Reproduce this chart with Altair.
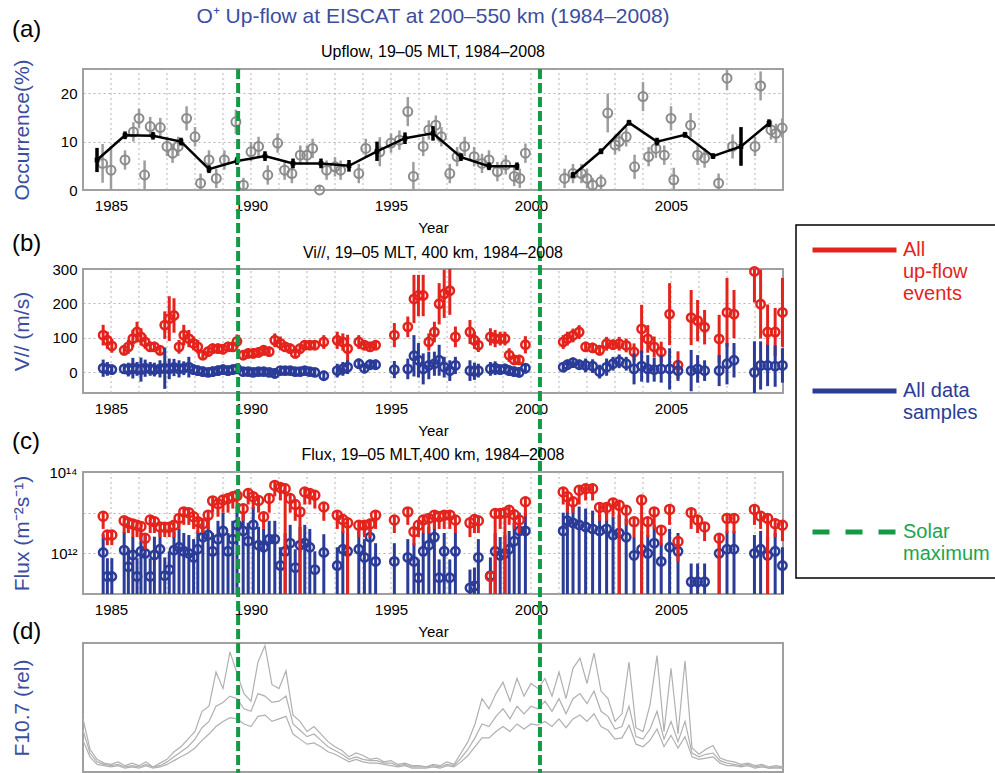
import altair as alt
import pandas as pd

FONT = "Liberation Sans"
RED = "#e4231c"
BLUE = "#2b3b98"
GRAY_PT = "#8a8a8a"
GRAY_BAR = "#9d9d9d"
GREEN = "#139a45"
GREEN_TXT = "#1aa64e"
TITLE_BLUE = "#3b4d9f"
FRAME_C = "#a0a0a0"
GRID_C = "#b5b5b5"
F107_C = "#b0b0b0"

# plot-area geometry in pixels (view is 700 x 704)
W, H = 700, 704
RANGE_A = [121, 0]
RANGE_B = [324, 200]
RANGE_C = [525, 403]
RANGE_D = [703, 574]

X_DOMAIN = [1984, 2009]
TICK_YEARS = [1985, 1990, 1995, 2000, 2005]
GRID_YEARS = list(range(1985, 2009))
SOLAR_MAX_YEARS = [1989.54, 2000.32]

TITLE = "O⁺ Up-flow at EISCAT at 200–550 km (1984–2008)"
SUBTITLES = ["Upflow, 19–05 MLT, 1984–2008",
             "Vi//, 19–05 MLT, 400 km, 1984–2008",
             "Flux, 19–05 MLT,400 km, 1984–2008"]
PANEL_LABELS = ["(a)", "(b)", "(c)", "(d)"]
Y_TITLES = ["Occurrence(%)", "V// (m/s)", "Flux (m⁻²s⁻¹)", "F10.7 (rel)"]
LEG_NAMES = ["All|up-flow|events", "All data|samples|", "Solar|maximum"]

# ---------------- (a) occurrence ----------------
OCC_MEAN_YEAR = [1984.5, 1985.5, 1986.5, 1987.5, 1988.5, 1989.5, 1990.5, 1991.5,
                 1992.5, 1993.5, 1994.5, 1995.5, 1996.5, 1997.5, 1998.5, 1999.5,
                 2001.5, 2002.5, 2003.5, 2004.5, 2005.5, 2006.5, 2007.5, 2008.5]
OCC_MEAN = [6.2, 11.3, 11.2, 10.0, 4.3, 6.0, 7.0, 5.5, 5.5, 5.0, 8.0, 10.7, 11.7, 6.8, 4.9, 4.9,
            3.1, 8.0, 13.9, 10.0, 11.4, 7.0, 9.0, 13.8]
OCC_MEAN_ERR = [2.5, 0.8, 0.8, 0.8, 0.8, 0.8, 1.0, 1.0, 1.0, 1.2, 2.0, 1.2, 1.5, 0.8, 0.8, 0.8,
                0.6, 0.6, 0.6, 0.8, 0.6, 0.6, 4.0, 0.8]
OCC_MEAN_SEG = [0] * 16 + [1] * 8

OCC_YEAR = [1984.7, 1985.0, 1985.5, 1985.8, 1986.0, 1986.2, 1986.4, 1986.76, 1987.0, 1987.2,
            1987.4, 1987.7, 1988.0, 1988.2, 1988.5, 1988.76, 1989.05, 1989.46, 1989.73, 1990.0,
            1990.27, 1990.6, 1990.95, 1991.2, 1991.46, 1991.76, 1992.0, 1992.2, 1992.45, 1992.7,
            1993.0, 1993.2, 1993.85, 1994.1, 1994.6, 1995.0, 1995.3, 1995.6, 1995.8, 1996.15,
            1996.35, 1996.6, 1996.8, 1997.1, 1997.36, 1997.63, 1997.97, 1998.25, 1998.5, 1998.8,
            1999.1, 1999.4, 1999.6, 1999.8, 2001.2, 2001.5, 2001.8, 2002.0, 2002.2, 2002.5,
            2002.74, 2003.0, 2003.15, 2003.4, 2003.7, 2004.0, 2004.2, 2004.46, 2004.76, 2005.0,
            2005.1, 2005.7, 2005.95, 2006.2, 2006.7, 2007.0, 2007.2, 2008.0, 2008.2, 2008.57,
            2008.75, 2008.97]
OCC_VAL = [5.5, 4.1, 6.2, 12.0, 14.8, 3.1, 13.1, 12.9, 9.0, 7.6,
           9.0, 14.8, 11.0, 1.4, 6.2, 2.4, 6.2, 14.1, 1.0, 7.9,
           9.0, 3.1, 9.7, 4.1, 3.4, 7.2, 7.2, 8.6, 0.0, 4.1,
           4.8, 4.1, 3.4, 8.6, 7.9, 9.7, 10.3, 16.2, 2.8, 9.0,
           12.4, 13.4, 11.0, 3.4, 6.9, 9.0, 6.9, 5.5, 6.2, 3.8,
           5.2, 2.8, 2.4, 7.6, 2.4, 3.4, 3.4, 2.4, 1.0, 1.7,
           15.9, 9.3, 10.0, 11.0, 4.8, 19.3, 6.9, 8.6, 7.2, 14.8,
           2.1, 13.4, 7.2, 6.6, 1.4, 23.1, 9.0, 9.0, 21.5, 12.4,
           11.7, 12.8]
OCC_ERR = [4, 5, 2, 2, 2, 3, 2, 2, 2, 2,
           2, 2.5, 2, 2, 2, 2, 2, 2.5, 1.5, 2,
           2, 2, 2, 2, 2, 2, 2, 2, 1, 2,
           2, 2, 2, 2, 3, 2, 2, 3, 3, 2,
           2, 2, 2, 2, 2, 2, 2, 2, 2, 2,
           2, 2, 2, 2, 2, 2, 2, 2, 1.5, 1.5,
           4, 2, 2, 2, 2.5, 3, 2, 2, 2, 2.5,
           2.5, 2.5, 2, 2, 2, 2.5, 2.5, 2, 3, 2,
           2, 2]

# ---------------- (b) and (c) samples ----------------
SAMPLE_YEAR = [1984.72, 1984.87, 1985.03, 1985.47, 1985.62, 1985.78, 1985.93, 1986.07, 1986.22, 1986.40,
               1986.55, 1986.75, 1986.92, 1987.08, 1987.25, 1987.43, 1987.60, 1987.78, 1987.95, 1988.10,
               1988.28, 1988.47, 1988.63, 1988.82, 1989.00, 1989.18, 1989.35, 1989.50, 1989.72, 1989.90,
               1990.08, 1990.27, 1990.45, 1990.65, 1990.85, 1991.05, 1991.22, 1991.40, 1991.58, 1991.75,
               1991.92, 1992.10, 1992.28, 1992.60, 1993.08, 1993.28, 1993.45, 1993.85, 1994.05, 1994.25,
               1994.45, 1995.12, 1995.60, 1995.82, 1995.98, 1996.15, 1996.35, 1996.55, 1996.72, 1996.90,
               1997.10, 1997.30, 1997.82, 1997.98, 1998.12, 1998.55, 1998.72, 1998.90, 1999.07, 1999.22,
               1999.40, 1999.58, 1999.80, 2001.15, 2001.30, 2001.50, 2001.72, 2001.95, 2002.20, 2002.45,
               2002.70, 2002.93, 2003.15, 2003.40, 2003.68, 2003.95, 2004.17, 2004.40, 2004.65, 2004.95,
               2005.25, 2005.72, 2005.95, 2006.20, 2006.72, 2007.00, 2007.25, 2007.98, 2008.20, 2008.45,
               2008.72, 2008.98]

V_UP = [108, 93, 77, 64, 74, 98, 117, 103, 88, 74,
        74, 64, 137, 156, 165, 74, 108, 98, 84, 74,
        50, 60, 69, 69, 67, 74, 74, 90, 50, 55,
        55, 58, 64, 60, 93, 84, 74, 69, 55, 69,
        79, 79, 79, 88, 93, 88, 69, 88, 79, 74,
        79, 108, 132, 213, 223, 223, 88, 117, 199, 228,
        237, 103, 117, 93, 79, 103, 98, 98, 98, 50,
        36, 36, 80, 88, 98, 107, 117, 74, 71, 64,
        83, 80, 83, 78, 59, 126, 97, 74, 59, 169,
        21, 159, 150, 131, 97, 174, 169, 293, 198, 117,
        117, 174]
V_UP_ERR = [30, 25, 20, 15, 20, 25, 30, 25, 20, 15,
            15, 15, 40, 65, 50, 20, 30, 25, 20, 20,
            15, 15, 15, 15, 15, 15, 15, 20, 15, 15,
            15, 15, 15, 15, 20, 20, 15, 15, 15, 15,
            15, 15, 15, 20, 25, 25, 40, 20, 15, 15,
            15, 35, 30, 70, 60, 60, 25, 30, 60, 70,
            70, 30, 35, 25, 20, 25, 25, 20, 20, 20,
            15, 15, 25, 20, 20, 20, 20, 15, 15, 15,
            20, 15, 20, 20, 25, 70, 40, 30, 30, 90,
            40, 80, 60, 50, 70, 100, 70, 90, 100, 80,
            70, 100]
V_ALL = [12, 10, 8, 10, 8, 12, 10, 8, 12, 10,
         8, 10, 12, 10, 14, 10, 12, 15, 8, 5,
         2, 0, 2, 5, 8, 5, 8, 10, 2, 2,
         0, 2, 2, 0, -3, 5, 5, 5, 2, 2,
         5, 2, 0, -10, 5, 10, 15, 25, 12, 22,
         22, 8, 10, 48, 35, 10, 20, 25, 35, 15,
         5, 20, 5, 3, 5, 10, 12, 8, 10, 5,
         2, 0, 12, 15, 22, 28, 22, 20, 18, 2,
         15, 25, 32, 25, 10, 18, 10, 8, 10, 10,
         5, 5, 10, 5, 5, 25, 35, 0, 20, 20,
         18, 20]
V_ALL_ERR = [25, 20, 15, 15, 20, 30, 20, 35, 25, 20,
             20, 25, 60, 30, 25, 25, 20, 30, 15, 15,
             15, 12, 15, 15, 15, 15, 15, 15, 12, 12,
             10, 12, 12, 10, 15, 12, 12, 12, 12, 12,
             12, 12, 12, 15, 20, 20, 20, 15, 15, 15,
             15, 25, 30, 60, 50, 45, 40, 35, 45, 30,
             30, 25, 30, 25, 20, 20, 20, 15, 15, 15,
             15, 15, 15, 15, 15, 15, 15, 20, 20, 20,
             25, 20, 20, 20, 45, 45, 40, 35, 40, 60,
             30, 60, 40, 30, 45, 60, 50, 90, 70, 60,
             60, 50]

# flux, log10 (m^-2 s^-1)
FLUX_UP_LOG = [12.91, 12.45, 12.45, 12.80, 12.75, 12.72, 12.69, 12.66, 12.37, 12.82,
               12.78, 12.65, 12.64, 12.64, 12.69, 12.86, 13.02, 13.00, 12.90, 12.78,
               12.73, 12.94, 13.29, 13.22, 13.31, 13.35, 13.39, 13.42, 13.10, 13.47,
               13.39, 13.30, 12.90, 13.35, 13.67, 13.62, 13.59, 13.35, 13.20, 13.02,
               13.51, 13.47, 13.43, 13.14, 12.94, 12.83, 12.75, 12.69, 12.69, 12.72,
               12.94, 12.82, 13.02, 12.53, 12.69, 12.82, 12.86, 12.94, 12.90, 12.94,
               12.94, 12.82, 12.75, 12.83, 12.80, 11.43, 12.98, 12.98, 13.00, 13.06,
               12.95, 12.82, 13.27, 13.51, 13.39, 13.27, 13.55, 13.59, 13.59, 13.13,
               13.13, 13.24, 13.18, 13.06, 12.78, 13.31, 12.78, 13.02, 12.57, 13.08,
               12.29, 13.00, 12.82, 12.65, 12.37, 12.86, 12.86, 13.08, 12.91, 12.86,
               12.73, 12.69]
FLUX_UP_LOW_LOG = [12.6, 12.2, 12.2, 12.5, 12.5, 12.4, 12.4, 12.4, 12.1, 12.5,
                   12.5, 12.4, 12.4, 12.4, 12.4, 12.6, 12.7, 12.7, 12.6, 12.5,
                   12.5, 12.6, 13.0, 12.9, 13.0, 13.0, 13.1, 13.1, 12.8, 13.2,
                   13.1, 13.0, 12.6, 13.0, 13.4, 13.3, 11.0, 13.0, 12.8, 11.0,
                   13.2, 13.2, 13.1, 12.8, 12.6, 12.5, 11.0, 12.4, 12.4, 12.4,
                   12.6, 12.5, 12.7, 12.2, 12.4, 12.5, 12.5, 12.6, 12.6, 12.6,
                   12.6, 12.5, 12.4, 12.5, 12.5, 11.0, 11.0, 12.6, 11.0, 12.7,
                   12.6, 12.5, 12.9, 13.2, 13.0, 13.0, 13.2, 13.3, 13.3, 12.8,
                   12.8, 12.9, 11.0, 12.7, 12.4, 11.0, 12.4, 12.6, 12.2, 12.7,
                   11.8, 12.6, 12.5, 12.3, 11.0, 12.5, 12.5, 12.7, 12.6, 11.0,
                   12.4, 12.3]
FLUX_ALL_LOG = [12.02, 11.43, 11.43, 12.08, 11.67, 11.96, 11.43, 12.05, 12.00, 11.43,
                11.96, 12.10, 11.45, 11.60, 12.08, 12.15, 12.05, 12.00, 11.90, 12.10,
                12.40, 12.45, 12.05, 12.35, 12.55, 12.05, 12.35, 12.70, 12.55, 12.30,
                12.70, 12.20, 12.15, 12.35, 12.35, 11.70, 12.05, 12.25, 11.65, 12.20,
                12.25, 12.15, 11.60, 12.02, 11.70, 12.10, 12.05, 12.10, 11.90, 12.40,
                11.80, 11.80, 11.90, 11.80, 11.40, 12.05, 12.20, 12.40, 11.40, 12.05,
                11.40, 12.05, 11.15, 11.20, 11.90, 11.45, 12.05, 11.95, 12.00, 12.10,
                12.30, 12.55, 12.55, 12.55, 12.80, 12.75, 12.70, 12.65, 12.60, 12.55,
                12.60, 12.45, 12.50, 12.40, 11.95, 12.10, 12.00, 12.25, 11.80, 12.15,
                12.05, 11.30, 11.30, 11.30, 12.00, 12.10, 12.10, 12.00, 12.10, 11.95,
                12.05, 11.70]
FLUX_UP_SPREAD = 0.12
FLUX_ALL_SPREAD = 0.45
FLUX_FLOOR_LOG = 11.0

# ---------------- (d) F10.7, quarterly samples 1984.00 .. 2009.00 ----------------
F107_T0 = 1984.0
F107_STEP = 0.25
F107_HIGH = [0.42, 0.18, 0.10, 0.07, 0.06, 0.08, 0.05, 0.07, 0.05, 0.08, 0.04, 0.07,
             0.10, 0.16, 0.20, 0.26, 0.32, 0.48, 0.52, 0.79, 0.66, 0.95, 0.78, 0.62,
             0.56, 0.87, 1.00, 0.69, 0.66, 0.80, 0.45, 0.40, 0.32, 0.36, 0.30, 0.24,
             0.20, 0.17, 0.12, 0.15, 0.13, 0.10, 0.11, 0.08, 0.09, 0.06, 0.07, 0.05,
             0.05, 0.04, 0.06, 0.05, 0.08, 0.06, 0.15, 0.24, 0.38, 0.58, 0.50, 0.62,
             0.71, 0.56, 0.74, 0.60, 0.70, 0.66, 0.74, 0.60, 0.79, 0.58, 0.82, 0.90,
             0.70, 0.94, 0.64, 0.58, 0.40, 0.46, 0.87, 0.35, 0.32, 0.53, 0.92, 0.32,
             0.82, 0.30, 0.88, 0.19, 0.14, 0.18, 0.21, 0.11, 0.09, 0.08, 0.06, 0.07,
             0.05, 0.06, 0.04, 0.05, 0.04]
F107_MID = [0.33, 0.15, 0.08, 0.06, 0.05, 0.06, 0.04, 0.05, 0.04, 0.06, 0.04, 0.05,
            0.08, 0.12, 0.16, 0.20, 0.26, 0.35, 0.40, 0.52, 0.55, 0.60, 0.58, 0.50,
            0.48, 0.62, 0.60, 0.55, 0.56, 0.60, 0.38, 0.33, 0.28, 0.30, 0.25, 0.20,
            0.17, 0.14, 0.10, 0.12, 0.10, 0.09, 0.09, 0.07, 0.07, 0.05, 0.06, 0.04,
            0.04, 0.04, 0.05, 0.04, 0.06, 0.05, 0.11, 0.18, 0.27, 0.38, 0.36, 0.44,
            0.50, 0.42, 0.52, 0.46, 0.52, 0.50, 0.56, 0.48, 0.58, 0.46, 0.58, 0.62,
            0.54, 0.64, 0.48, 0.44, 0.34, 0.36, 0.52, 0.28, 0.26, 0.34, 0.48, 0.26,
            0.40, 0.24, 0.40, 0.15, 0.12, 0.14, 0.15, 0.09, 0.07, 0.06, 0.05, 0.06,
            0.04, 0.05, 0.03, 0.04, 0.03]
F107_LOW = [0.25, 0.12, 0.06, 0.05, 0.04, 0.05, 0.03, 0.04, 0.03, 0.05, 0.03, 0.04,
            0.06, 0.09, 0.12, 0.15, 0.19, 0.25, 0.30, 0.36, 0.40, 0.43, 0.42, 0.38,
            0.36, 0.44, 0.45, 0.40, 0.42, 0.44, 0.30, 0.26, 0.22, 0.23, 0.20, 0.16,
            0.14, 0.11, 0.08, 0.10, 0.08, 0.07, 0.07, 0.06, 0.05, 0.04, 0.05, 0.03,
            0.03, 0.03, 0.04, 0.03, 0.05, 0.04, 0.08, 0.13, 0.20, 0.27, 0.27, 0.32,
            0.36, 0.32, 0.38, 0.34, 0.38, 0.37, 0.40, 0.36, 0.42, 0.35, 0.42, 0.45,
            0.40, 0.46, 0.36, 0.33, 0.26, 0.27, 0.37, 0.22, 0.20, 0.25, 0.34, 0.20,
            0.29, 0.19, 0.28, 0.12, 0.10, 0.11, 0.12, 0.07, 0.05, 0.05, 0.04, 0.05,
            0.03, 0.04, 0.03, 0.03, 0.03]

DOM_A = [0, 25]
DOM_B = [-60, 300]
DOM_C = [1e11, 1e14]
DOM_D = [0, 1.02]


def xscale():
    return alt.Scale(domain=X_DOMAIN, nice=False, zero=False)


def yscale(domain, rng, log=False):
    if log:
        return alt.Scale(type="log", domain=domain, range=rng, nice=False, clamp=True)
    return alt.Scale(domain=domain, range=rng, nice=False, zero=False, clamp=True)


def x_axis(offset):
    return alt.Axis(orient="bottom", offset=offset, values=TICK_YEARS, format="d", title="Year",
                    grid=False, domain=False, ticks=False, labelPadding=8, titlePadding=7,
                    labelFontSize=15, titleFontSize=15, titleFontWeight="normal",
                    labelFont=FONT, titleFont=FONT, labelColor="black", titleColor="black")


def y_axis(title, center, values=None, grid=True, labels=True, label_expr=None):
    kw = dict(orient="left", title=title, titleX=-61, titleY=center, titleBaseline="middle",
              titleAlign="center", titleAngle=270,
              titleFontSize=21, titleColor=TITLE_BLUE, titleFont=FONT, titleFontWeight="normal",
              domain=False, ticks=False, labelPadding=6, labelFontSize=15, labelFont=FONT,
              labelColor="black", grid=grid, gridDash=[2, 3], gridColor=GRID_C, gridWidth=1,
              labels=labels)
    if values is not None:
        kw["values"] = values
    if label_expr is not None:
        kw["labelExpr"] = label_expr
    return alt.Axis(**kw)


def frame(dom, ys, xaxis, yaxis):
    df = pd.DataFrame({"x0": [X_DOMAIN[0]], "x1": [X_DOMAIN[1]], "y0": [dom[0]], "y1": [dom[1]]})
    return alt.Chart(df).mark_rect(fillOpacity=0, stroke=FRAME_C, strokeWidth=2).encode(
        x=alt.X("x0:Q", scale=xscale(), axis=xaxis), x2="x1:Q",
        y=alt.Y("y0:Q", scale=ys, axis=yaxis), y2="y1:Q")


def vgrid(dom, ys):
    df = pd.DataFrame({"yr": GRID_YEARS, "lo": [dom[0]] * len(GRID_YEARS), "hi": [dom[1]] * len(GRID_YEARS)})
    return alt.Chart(df).mark_rule(color=GRID_C, strokeWidth=1, strokeDash=[2, 3]).encode(
        x=alt.X("yr:Q", scale=xscale(), axis=None),
        y=alt.Y("lo:Q", scale=ys, axis=None), y2="hi:Q")


def bars(df, lo, hi, ys, color, width):
    return alt.Chart(df).mark_rule(color=color, strokeWidth=width).encode(
        x=alt.X("yr:Q", scale=xscale(), axis=None),
        y=alt.Y(f"{lo}:Q", scale=ys, axis=None), y2=f"{hi}:Q")


def circles(df, field, ys, color, size, width):
    return alt.Chart(df).mark_point(shape="circle", filled=False, color=color, size=size,
                                    strokeWidth=width, opacity=1).encode(
        x=alt.X("yr:Q", scale=xscale(), axis=None),
        y=alt.Y(f"{field}:Q", scale=ys, axis=None))


def panel(*layers):
    return alt.layer(*layers).resolve_axis(x="independent", y="independent")


# ---------- panel (a) ----------
ysA = yscale(DOM_A, RANGE_A)
occ = pd.DataFrame({"yr": OCC_YEAR, "v": OCC_VAL})
occ["lo"] = [v - e for v, e in zip(OCC_VAL, OCC_ERR)]
occ["hi"] = [v + e for v, e in zip(OCC_VAL, OCC_ERR)]
occm = pd.DataFrame({"yr": OCC_MEAN_YEAR, "v": OCC_MEAN, "seg": OCC_MEAN_SEG})
occm["lo"] = [v - e for v, e in zip(OCC_MEAN, OCC_MEAN_ERR)]
occm["hi"] = [v + e for v, e in zip(OCC_MEAN, OCC_MEAN_ERR)]

panelA = panel(
    frame(DOM_A, ysA, x_axis(RANGE_A[0] - H),
          y_axis(Y_TITLES[0], (RANGE_A[0] + RANGE_A[1]) / 2, values=[0, 10, 20])),
    vgrid(DOM_A, ysA),
    bars(occ, "lo", "hi", ysA, GRAY_BAR, 2.5),
    circles(occ, "v", ysA, GRAY_PT, 80, 2),
    bars(occm, "lo", "hi", ysA, "black", 3.5),
    alt.Chart(occm).mark_line(color="black", strokeWidth=2.5).encode(
        x=alt.X("yr:Q", scale=xscale(), axis=None),
        y=alt.Y("v:Q", scale=ysA, axis=None), detail="seg:N"),
    alt.Chart(occm).mark_square(color="black", size=22, opacity=1).encode(
        x=alt.X("yr:Q", scale=xscale(), axis=None),
        y=alt.Y("v:Q", scale=ysA, axis=None)),
)

# ---------- panel (b) ----------
ysB = yscale(DOM_B, RANGE_B)
vel = pd.DataFrame({"yr": SAMPLE_YEAR, "up": V_UP, "all": V_ALL})
vel["up_lo"] = [v - e for v, e in zip(V_UP, V_UP_ERR)]
vel["up_hi"] = [v + e for v, e in zip(V_UP, V_UP_ERR)]
vel["all_lo"] = [v - e for v, e in zip(V_ALL, V_ALL_ERR)]
vel["all_hi"] = [v + e for v, e in zip(V_ALL, V_ALL_ERR)]

panelB = panel(
    frame(DOM_B, ysB, x_axis(RANGE_B[0] - H),
          y_axis(Y_TITLES[1], (RANGE_B[0] + RANGE_B[1]) / 2, values=[0, 100, 200, 300])),
    vgrid(DOM_B, ysB),
    bars(vel, "up_lo", "up_hi", ysB, RED, 3),
    circles(vel, "up", ysB, RED, 70, 2.5),
    bars(vel, "all_lo", "all_hi", ysB, BLUE, 3),
    circles(vel, "all", ysB, BLUE, 70, 2.5),
)

# ---------- panel (c) ----------
ysC = yscale(DOM_C, RANGE_C, log=True)
flx = pd.DataFrame({"yr": SAMPLE_YEAR})
flx["up"] = [10 ** v for v in FLUX_UP_LOG]
flx["up_lo"] = [10 ** v for v in FLUX_UP_LOW_LOG]
flx["up_hi"] = [10 ** (v + FLUX_UP_SPREAD) for v in FLUX_UP_LOG]
flx["all"] = [10 ** v for v in FLUX_ALL_LOG]
flx["all_lo"] = [10 ** FLUX_FLOOR_LOG] * len(FLUX_ALL_LOG)
flx["all_hi"] = [10 ** (v + FLUX_ALL_SPREAD) for v in FLUX_ALL_LOG]

panelC = panel(
    frame(DOM_C, ysC, x_axis(RANGE_C[0] - H),
          y_axis(Y_TITLES[2], (RANGE_C[0] + RANGE_C[1]) / 2, values=[1e12, 1e13, 1e14],
                 label_expr="datum.value == 1e14 ? '10¹⁴' : (datum.value == 1e12 ? '10¹²' : '')")),
    vgrid(DOM_C, ysC),
    bars(flx, "all_lo", "all_hi", ysC, BLUE, 3),
    circles(flx, "all", ysC, BLUE, 70, 2.5),
    bars(flx, "up_lo", "up_hi", ysC, RED, 3),
    circles(flx, "up", ysC, RED, 80, 2.5),
)

# ---------- panel (d) ----------
ysD = yscale(DOM_D, RANGE_D)
f_rows = []
for name, series in (("high", F107_HIGH), ("mid", F107_MID), ("low", F107_LOW)):
    for i, v in enumerate(series):
        f_rows.append({"yr": F107_T0 + i * F107_STEP, "v": v, "s": name})
f107 = pd.DataFrame(f_rows)

panelD = panel(
    frame(DOM_D, ysD, None,
          y_axis(Y_TITLES[3], (RANGE_D[0] + RANGE_D[1]) / 2, grid=False, labels=False)),
    alt.Chart(f107).mark_line(color=F107_C, strokeWidth=1.2).encode(
        x=alt.X("yr:Q", scale=xscale(), axis=None),
        y=alt.Y("v:Q", scale=ysD, axis=None), detail="s:N"),
)

# ---------- solar maximum lines ----------
green = alt.Chart(pd.DataFrame({"yr": SOLAR_MAX_YEARS})).mark_rule(
    color=GREEN, strokeWidth=4, strokeDash=[10, 4]).encode(
    x=alt.X("yr:Q", scale=xscale(), axis=None))

# ---------- legend ----------
LEG = alt.Legend(
    title=None, orient="none", legendX=713, legendY=156, direction="vertical",
    strokeColor="black", fillColor="white", padding=14, rowPadding=76, clipHeight=22,
    symbolType="stroke", symbolSize=7056, symbolStrokeWidth=5, labelOffset=4,
    labelFontSize=20, labelFont=FONT, labelLimit=400,
    labelExpr="split(datum.label, '|')",
    labelColor={"expr": f"indexof(datum.value, 'up-flow') >= 0 ? '{RED}' : "
                        f"(indexof(datum.value, 'data') >= 0 ? '{BLUE}' : '{GREEN_TXT}')"},
)
leg_df = pd.DataFrame({"name": LEG_NAMES, "yr": [1996.5] * 3, "v": [0.5] * 3})
legend_layer = alt.Chart(leg_df).mark_line(strokeWidth=5).encode(
    x=alt.X("yr:Q", scale=xscale(), axis=None),
    y=alt.Y("v:Q", scale=alt.Scale(domain=[0, 1]), axis=None),
    color=alt.Color("name:N", scale=alt.Scale(domain=LEG_NAMES, range=[RED, BLUE, GREEN]), legend=LEG),
    strokeDash=alt.StrokeDash("name:N", scale=alt.Scale(domain=LEG_NAMES, range=[[1, 0], [1, 0], [17, 16]]),
                              legend=LEG),
)


# ---------- texts ----------
def text(s, x, y, size, color, align="center"):
    return alt.Chart(pd.DataFrame({"t": [s]})).mark_text(
        fontSize=size, font=FONT, color=color, align=align, baseline="middle").encode(
        text="t:N", x=alt.value(x), y=alt.value(y))


texts = [
    text(TITLE, 350, -52, 21, TITLE_BLUE),
    text(SUBTITLES[0], 350, -17, 16, "black"),
    text(SUBTITLES[1], 350, 184, 16, "black"),
    text(SUBTITLES[2], 350, 386, 16, "black"),
    text(PANEL_LABELS[0], -71, -39, 24, "black", "left"),
    text(PANEL_LABELS[1], -71, 175, 24, "black", "left"),
    text(PANEL_LABELS[2], -71, 373, 24, "black", "left"),
    text(PANEL_LABELS[3], -71, 563, 24, "black", "left"),
]

chart = alt.layer(panelA, panelB, panelC, panelD, green, legend_layer, *texts).resolve_scale(
    x="independent", y="independent"
).properties(
    width=W, height=H,
    autosize=alt.AutoSizeParams(type="none"),
    padding={"left": 83, "top": 69, "right": 212, "bottom": 0},
).configure_view(strokeWidth=0).configure_legend(strokeWidth=1.5)

chart.save("out.html", embed_options={"renderer": "svg", "actions": False})
